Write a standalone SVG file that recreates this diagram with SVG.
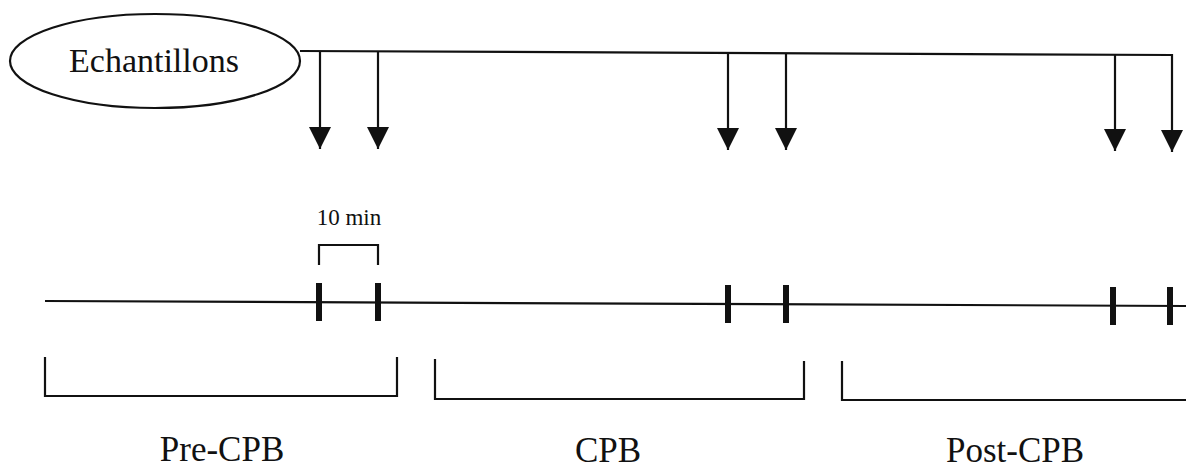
<svg xmlns="http://www.w3.org/2000/svg" width="1186" height="472" viewBox="0 0 1186 472">
<style>
.ln{fill:none;stroke:#111;stroke-width:2.2}
.tk{fill:none;stroke:#111;stroke-width:6}
.t{font-family:"Liberation Serif","Times New Roman",serif;fill:#111}
</style>
<defs>
<marker id="ah" markerUnits="userSpaceOnUse" markerWidth="22" markerHeight="22" refX="22" refY="11" orient="auto" viewBox="0 0 22 22">
<path d="M0,0 L22,11 L0,22 z" fill="#111"/>
</marker>
</defs>
<rect width="1186" height="472" fill="#fff"/>
<g id="echantillons">
<ellipse cx="155" cy="61" rx="145" ry="47" class="ln"/>
<text class="t" x="154" y="72" font-size="34" text-anchor="middle">Echantillons</text>
</g>
<g id="connectors">
<path class="ln" d="M300,51 L1172,55"/>
<line class="ln" x1="320" y1="51" x2="320" y2="149" marker-end="url(#ah)"/>
<line class="ln" x1="378" y1="51" x2="378" y2="149" marker-end="url(#ah)"/>
<line class="ln" x1="728" y1="53" x2="728" y2="150" marker-end="url(#ah)"/>
<line class="ln" x1="786" y1="53" x2="786" y2="150" marker-end="url(#ah)"/>
<line class="ln" x1="1115" y1="55" x2="1115" y2="151" marker-end="url(#ah)"/>
<line class="ln" x1="1172" y1="54" x2="1172" y2="152" marker-end="url(#ah)"/>
</g>
<g id="timeline">
<path class="ln" d="M45,301 L1186,306"/>
<line class="tk" x1="319" y1="283" x2="319" y2="321"/>
<line class="tk" x1="378" y1="283" x2="378" y2="321"/>
<line class="tk" x1="728" y1="285" x2="728" y2="323"/>
<line class="tk" x1="786" y1="285" x2="786" y2="323"/>
<line class="tk" x1="1113" y1="287" x2="1113" y2="325"/>
<line class="tk" x1="1170" y1="287" x2="1170" y2="325"/>
</g>
<g id="interval">
<path class="ln" d="M319,265 V245 H378 V265"/>
<text class="t" x="349" y="225" font-size="23" text-anchor="middle">10 min</text>
</g>
<g id="pre-cpb">
<path class="ln" d="M45,357 V396 H397 V357"/>
<text class="t" x="222" y="461" font-size="35" text-anchor="middle">Pre-CPB</text>
</g>
<g id="cpb">
<path class="ln" d="M435,359 V399 H804 V361"/>
<text class="t" x="608" y="462" font-size="35" text-anchor="middle">CPB</text>
</g>
<g id="post-cpb">
<path class="ln" d="M842,361 V400 H1186"/>
<text class="t" x="1015" y="462" font-size="35" text-anchor="middle">Post-CPB</text>
</g>
</svg>
